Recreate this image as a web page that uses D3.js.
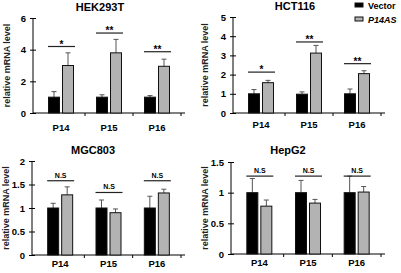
<!DOCTYPE html>
<html>
<head>
<meta charset="utf-8">
<script src="https://cdn.jsdelivr.net/npm/d3@7"></script>
<style>
  body { margin: 0; background: #fff; }
  text { font-family: "Liberation Sans", Arial, sans-serif; }
</style>
</head>
<body>
<div id="chart"></div>
<script>
// chart values
const CELLS = ["HEK293T", "HCT116", "MGC803", "HepG2"];
const GROUPS = ["P14", "P15", "P16"];
const SERIES = ["Vector", "P14AS"];

const VECTOR_MEAN = [[1, 1, 1], [1, 0.98, 1], [1, 1, 1], [1, 1, 1]];
const VECTOR_ERR = [[0.35, 0.15, 0.1], [0.22, 0.12, 0.25], [0.1, 0.17, 0.25], [0.23, 0.2, 0.27]];
const P14AS_MEAN = [[3.0, 3.8, 2.95], [1.58, 3.12, 2.05], [1.28, 0.9, 1.32], [0.78, 0.83, 1.01]];
const P14AS_ERR = [[0.8, 0.85, 0.45], [0.12, 0.4, 0.15], [0.17, 0.08, 0.08], [0.1, 0.06, 0.09]];

const SIG_LABEL = [["*", "**", "**"], ["*", "**", "**"], ["N.S", "N.S", "N.S"], ["N.S", "N.S", "N.S"]];
const SIG_LEVEL = [[4.2, 5.05, 3.87], [2.13, 3.7, 2.57], [1.58, 1.33, 1.58], [1.27, 1.27, 1.27]];

const Y_MAX = [6, 5, 2, 1.5];
const Y_TICKS = [[0, 2, 4, 6], [0, 1, 2, 3, 4, 5], [0, 0.5, 1, 1.5, 2], [0, 0.5, 1, 1.5]];

// panel layout (pixels)
const LAYOUT = [
  {left: 33, right: 185, top: 18, bottom: 113, titleX: 100, titleY: 11, labelX: 7, catDy: 18},
  {left: 233, right: 385, top: 17, bottom: 113, titleX: 295, titleY: 10, labelX: 205, catDy: 15},
  {left: 32, right: 185, top: 161, bottom: 255, titleX: 93, titleY: 154, labelX: 6, catDy: 12},
  {left: 231, right: 385, top: 162, bottom: 254, titleX: 288, titleY: 154, labelX: 205, catDy: 12}
];

const COLORS = {Vector: "#000000", P14AS: "#b3b3b3"};
const W = 401, H = 273;
const BAR_W = 11, BAR_GAP = 3, CAP = 5;

const svg = d3.select("#chart").append("svg")
  .attr("width", W).attr("height", H);

CELLS.forEach((cell, i) => {
  const L = LAYOUT[i];
  const g = svg.append("g");

  const x = d3.scaleBand().domain(GROUPS).range([L.left + 4, L.right - 4]);
  const y = d3.scaleLinear().domain([0, Y_MAX[i]]).range([L.bottom, L.top]);

  // title
  g.append("text")
    .attr("x", L.titleX).attr("y", L.titleY)
    .attr("text-anchor", "middle")
    .style("font-size", "11px").style("font-weight", "bold")
    .text(cell);

  // y axis label
  g.append("text")
    .attr("transform", `translate(${L.labelX},${(L.top + L.bottom) / 2}) rotate(-90)`)
    .attr("text-anchor", "middle").attr("dy", "0.35em")
    .style("font-size", "9px").style("font-weight", "bold").style("fill", "#222")
    .text("relative mRNA level");

  // y axis
  const yAxis = g.append("g")
    .attr("transform", `translate(${L.left},0)`)
    .call(d3.axisLeft(y).tickValues(Y_TICKS[i]).tickSize(3).tickPadding(4).tickFormat(d3.format("")));
  yAxis.select(".domain").attr("d", `M0,${L.top}V${L.bottom}`);
  yAxis.selectAll(".tick line").attr("x1", 3);
  yAxis.selectAll("text").style("font-size", "9.5px").style("font-weight", "bold");

  // x axis
  g.append("line")
    .attr("x1", L.left).attr("x2", L.right)
    .attr("y1", L.bottom).attr("y2", L.bottom)
    .attr("stroke", "#000");
  const edges = GROUPS.map(d => x(d)).concat([x(GROUPS[GROUPS.length - 1]) + x.bandwidth()]);
  g.selectAll(".xtick").data(edges.slice(1)).enter().append("line")
    .attr("x1", d => d).attr("x2", d => d)
    .attr("y1", L.bottom).attr("y2", L.bottom + 3)
    .attr("stroke", "#000");
  g.selectAll(".cat").data(GROUPS).enter().append("text")
    .attr("x", d => x(d) + x.bandwidth() / 2)
    .attr("y", L.bottom + L.catDy)
    .attr("text-anchor", "middle")
    .style("font-size", "9.5px").style("font-weight", "bold")
    .text(d => d);

  // bars
  const rows = [];
  GROUPS.forEach((grp, j) => {
    const cx = x(grp) + x.bandwidth() / 2;
    rows.push({series: "Vector", x: cx - BAR_GAP / 2 - BAR_W, mean: VECTOR_MEAN[i][j], err: VECTOR_ERR[i][j]});
    rows.push({series: "P14AS", x: cx + BAR_GAP / 2, mean: P14AS_MEAN[i][j], err: P14AS_ERR[i][j]});
  });

  // error bars (upper only)
  g.selectAll(".err").data(rows).enter().append("path")
    .attr("d", d => {
      const mx = d.x + BAR_W / 2;
      return `M${mx},${y(d.mean)}V${y(d.mean + d.err)}M${mx - CAP / 2},${y(d.mean + d.err)}H${mx + CAP / 2}`;
    })
    .attr("stroke", "#555").attr("stroke-width", 1).attr("fill", "none");

  g.selectAll(".bar").data(rows).enter().append("rect")
    .attr("x", d => d.x)
    .attr("y", d => y(d.mean))
    .attr("width", BAR_W)
    .attr("height", d => y(0) - y(d.mean))
    .attr("fill", d => COLORS[d.series])
    .attr("stroke", "#111").attr("stroke-width", 1);

  // significance
  GROUPS.forEach((grp, j) => {
    const cx = x(grp) + x.bandwidth() / 2;
    const ly = y(SIG_LEVEL[i][j]);
    g.append("line")
      .attr("x1", cx - 13).attr("x2", cx + 14)
      .attr("y1", ly).attr("y2", ly)
      .attr("stroke", "#222").attr("stroke-width", 1.2);
    const ns = SIG_LABEL[i][j] === "N.S";
    g.append("text")
      .attr("x", cx + 0.5).attr("y", ns ? ly - 3 : ly + 1)
      .attr("text-anchor", "middle")
      .style("font-size", ns ? "7px" : "10px").style("font-weight", "bold")
      .text(SIG_LABEL[i][j]);
  });
});

// legend
const legend = svg.append("g");
SERIES.forEach((s, k) => {
  const ly = 3 + k * 14;
  legend.append("rect")
    .attr("x", 355).attr("y", ly)
    .attr("width", 8).attr("height", 4)
    .attr("fill", COLORS[s]).attr("stroke", "#111");
  legend.append("text")
    .attr("x", 368).attr("y", ly + 6)
    .style("font-size", "9px").style("font-weight", "bold")
    .style("font-style", s === "P14AS" ? "italic" : "normal")
    .text(s);
});
</script>
</body>
</html>
